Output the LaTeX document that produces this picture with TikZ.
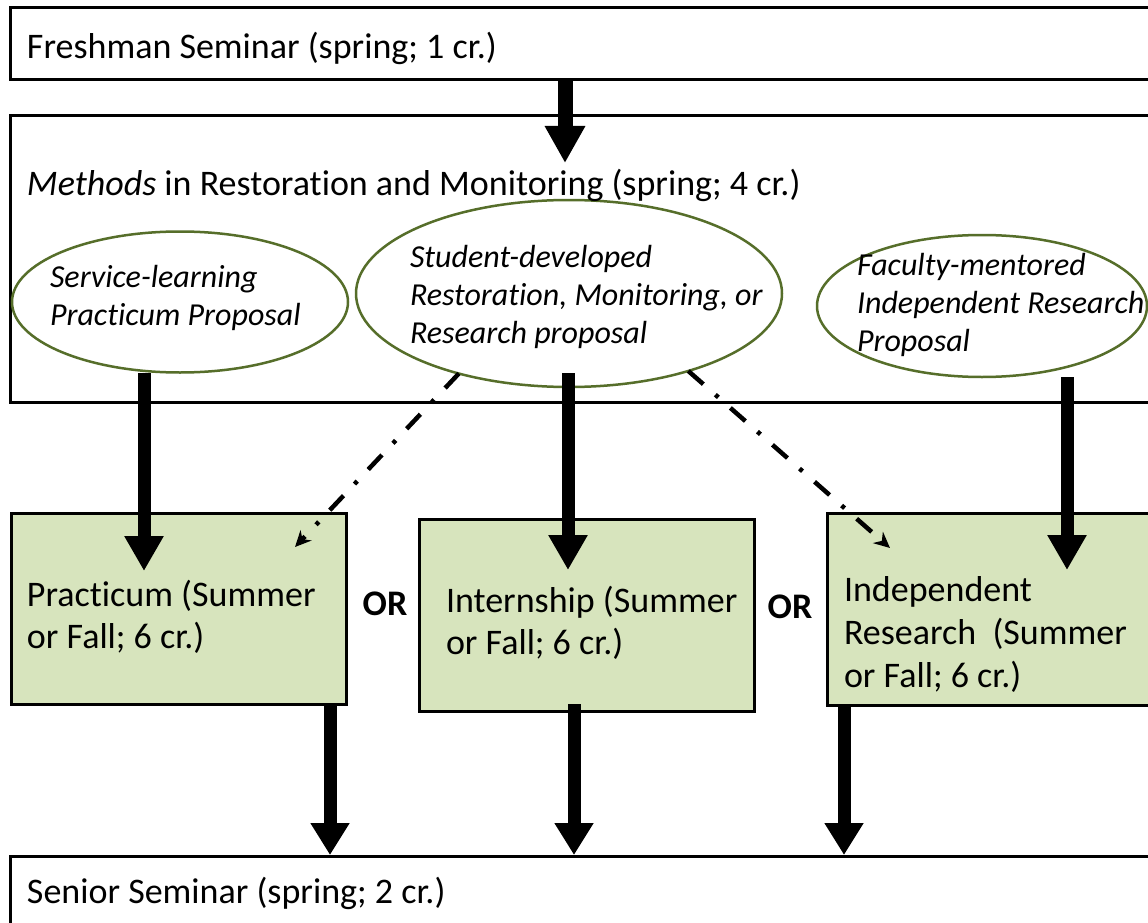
\documentclass[tikz,border=0pt]{standalone}
\usepackage{fontspec}
\setmainfont[Ligatures=NoCommon]{Carlito}
\usetikzlibrary{arrows.meta,shapes.geometric}
\definecolor{boxgreen}{HTML}{D7E4BD}
\definecolor{olivegreen}{RGB}{86,110,42}
\tikzset{
  box/.style={draw=black, line width=3pt, fill=white, rectangle, anchor=north west, outer sep=0pt, inner sep=0pt},
  greenbox/.style={box, fill=boxgreen},
  oval/.style={ellipse, draw=olivegreen, line width=2.5pt, fill=white, inner sep=0pt, outer sep=0pt},
  lbl/.style={anchor=base west, inner sep=0pt, outer sep=0pt, font=\fontsize{36}{42}\selectfont, align=left},
  ilbl/.style={anchor=base west, inner sep=0pt, outer sep=0pt, font=\fontsize{32}{38}\selectfont\itshape, align=left},
  orlbl/.style={anchor=base, inner sep=0pt, font=\fontsize{36}{42}\selectfont\bfseries},
  flow/.style={line width=13pt, -{Triangle[width=37pt,length=35pt]}},
  flowb/.style={line width=13pt, -{Triangle[width=37pt,length=32pt]}},
  alt/.style={line width=4.5pt, dash pattern=on 20pt off 16pt on 4pt off 16pt, -{Stealth[length=16pt,width=15pt]}},
}
\begin{document}
\begin{tikzpicture}[x=1pt,y=-1pt]
\useasboundingbox (0,0) rectangle (1148,923);
\clip (0,0) rectangle (1148,923);
\fill[white] (0,0) rectangle (1148,923);
% boxes
\node[box, minimum width=1150pt, minimum height=72pt] (fresh) at (10,8) {};
\node[box, minimum width=1150pt, minimum height=286pt] (meth) at (10,116) {};
\node[greenbox, minimum width=335pt, minimum height=191pt] (prac) at (11,513) {};
\node[greenbox, minimum width=335pt, minimum height=192pt] (intern) at (419,519) {};
\node[greenbox, minimum width=340pt, minimum height=192pt] (indep) at (827,513) {};
\node[box, minimum width=1150pt, minimum height=90pt] (senior) at (10,856) {};
% ellipses
\node[oval, minimum width=336pt, minimum height=141pt] (e1) at (180,302) {};
\node[oval, minimum width=426pt, minimum height=187pt] (e2) at (569,293.5) {};
\node[oval, minimum width=330pt, minimum height=142pt] (e3) at (982,306) {};
% texts (base anchor = baseline of the last line)
\node[lbl] (tfresh) at (27,59) {Freshman Seminar (spring; 1 cr.)};
\node[lbl] (tmeth) at (27,195) {\textit{Methods} in Restoration and Monitoring (spring; 4 cr.)};
\node[ilbl] (te1) at (50,325) {Service-learning\\Practicum Proposal};
\node[ilbl] (te2) at (410,343) {Student-developed\\Restoration, Monitoring, or\\Research proposal};
\node[ilbl] (te3) at (857,351) {Faculty-mentored\\Independent Research\\Proposal};
\node[lbl] (tprac) at (27,648) {Practicum (Summer\\or Fall; 6 cr.)};
\node[lbl] (tint) at (446,654) {Internship (Summer\\or Fall; 6 cr.)};
\node[lbl, font=\fontsize{36}{43}\selectfont] (tind) at (844,687) {Independent\\Research~~(Summer\\or Fall; 6 cr.)};
\node[lbl] (tsen) at (27,903) {Senior Seminar (spring; 2 cr.)};
\node[orlbl] (or1) at (385,615) {OR};
\node[orlbl] (or2) at (790,618) {OR};
% connectors
\coordinate (a0) at (565,163);
\draw[flow, line width=15pt, -{Triangle[width=38pt,length=37pt]}] (fresh.south -| a0) -- (a0);
\coordinate (a1) at (144,571);
\draw[flow] (e1.south -| a1) -- (a1);
\path ([yshift=14pt]e2.south) coordinate (e2b);
\coordinate (a2) at (568,570);
\draw[flow] (e2b -| a2) -- (a2);
\coordinate (a3) at (1067,570);
\draw[flow] (e3.south -| a3) -- (a3);
\coordinate (b1) at (330,855);
\draw[flowb] (prac.south -| b1) -- (b1);
\coordinate (b2) at (574,855);
\draw[flowb] ([yshift=7pt]intern.south -| b2) -- (b2);
\coordinate (b3) at (844,855);
\draw[flowb] (indep.south -| b3) -- (b3);
\coordinate (d1) at (295,547);
\coordinate (d2) at (890,548);
\draw[alt] (e2.216) -- (d1);
\draw[alt] (e2.327) -- (d2);
\end{tikzpicture}
\end{document}
